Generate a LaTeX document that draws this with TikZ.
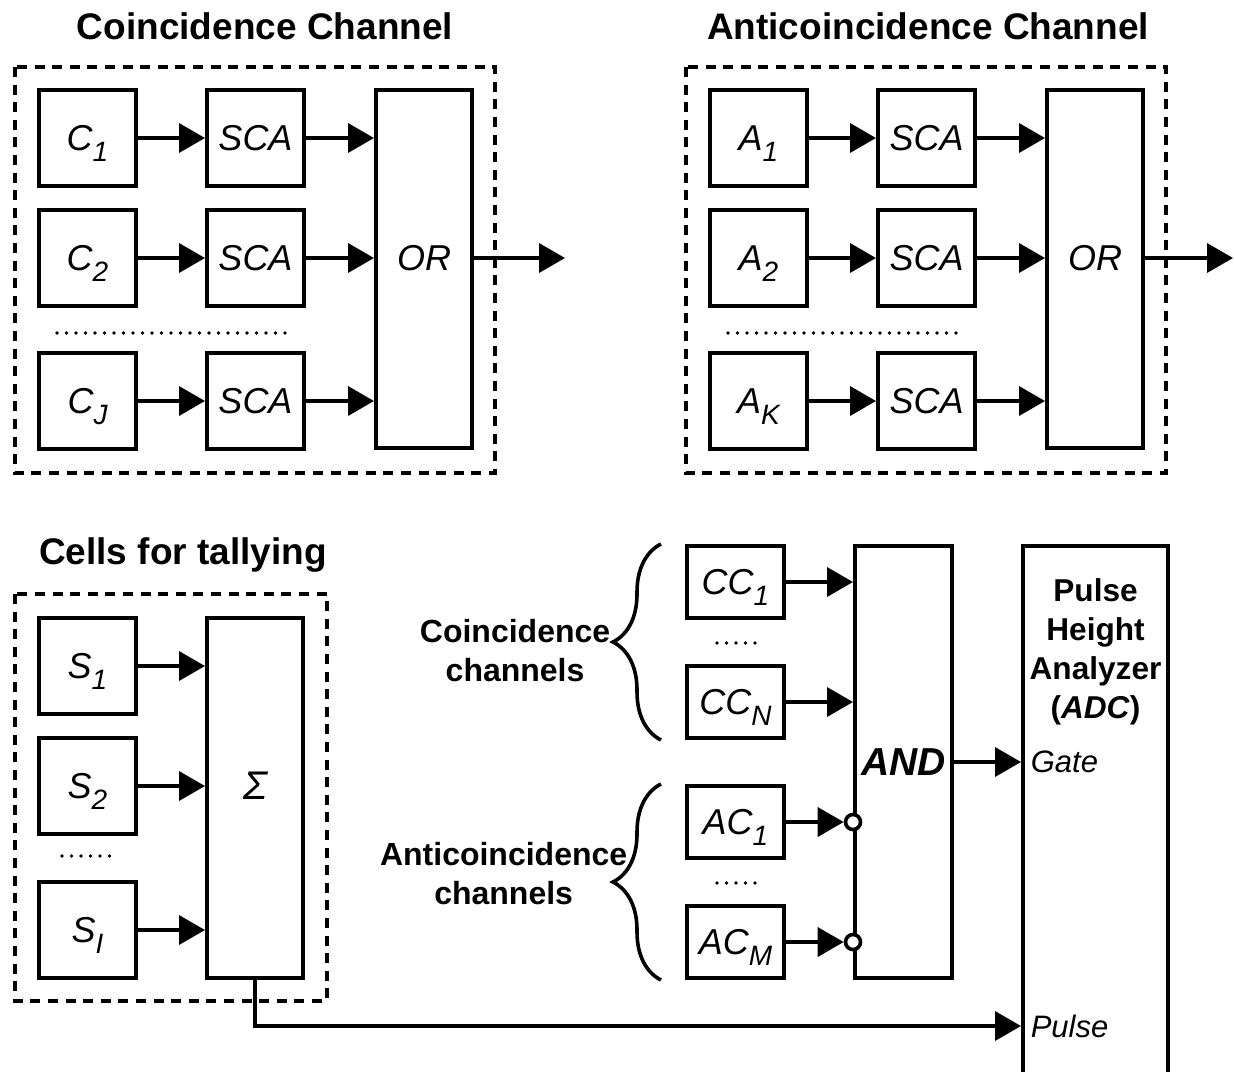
\documentclass[tikz,border=0pt]{standalone}
\usepackage{fontspec}
\setmainfont{Liberation Sans}
\usetikzlibrary{arrows.meta, positioning, decorations.pathreplacing}

\newcommand{\lsub}[1]{\raisebox{-5.5pt}[0pt][0pt]{\fontsize{14}{14}\selectfont #1}}

\begin{document}
\begin{tikzpicture}[x=0.5pt, y=-0.5pt, line width=1.8pt,
  >={Triangle[length=13pt, width=14.5pt]},
  lbl/.style={font=\fontsize{18}{21}\selectfont\itshape},
  blk/.style={draw, lbl, line width=2pt, inner sep=0pt, minimum width=48.5pt, minimum height=48pt},
  tallblk/.style={blk, minimum width=48pt},
  chblk/.style={blk, minimum height=36pt},
  frame/.style={line width=1.9pt, dash pattern=on 5pt off 3.8pt},
  heading/.style={font=\fontsize{18.5}{22}\selectfont\bfseries},
  note/.style={font=\fontsize{16}{19.5}\selectfont\bfseries, align=center, inner sep=0pt},
  port/.style={font=\fontsize{15.5}{18}\selectfont\itshape, anchor=west, inner sep=0pt, xshift=4pt},
  bubble/.style={circle, draw, fill=white, line width=1.8pt, minimum size=7.5pt, inner sep=0pt},
  curly/.style={decorate, decoration={brace, amplitude=24pt}},
  dotrow/.style={line width=1.8pt, line cap=round, dash pattern=on 0pt off 4.75pt}]
  \useasboundingbox (0,0) rectangle (1234,1071);

  % Coincidence channel (top left)
  \node[heading] (ctitle) at (265,26) {Coincidence Channel};
  \draw[frame] (15,67) rectangle (495,473);
  \node[blk] (c1) at (87.5,138) {C\lsub{1}};
  \node[blk] (c2) at (87.5,258) {C\lsub{2}};
  \node[blk] (cj) at (87.5,401) {C\lsub{J}};
  \node[blk] (csca1) at (255.5,138) {SCA};
  \node[blk] (csca2) at (255.5,258) {SCA};
  \node[blk] (csca3) at (255.5,401) {SCA};
  \node[tallblk, minimum height=179pt, label={[lbl, yshift=5.5pt]center:OR}] (cor) at (424,269) {};
  \draw[dotrow] (57,333) -- (286,333);

  \draw[->] (c1) -- (csca1);
  \draw[->] (c2) -- (csca2);
  \draw[->] (cj) -- (csca3);
  \draw[->] (csca1) -- (csca1 -| cor.west);
  \draw[->] (csca2) -- (csca2 -| cor.west);
  \draw[->] (csca3) -- (csca3 -| cor.west);
  \coordinate (cout) at (565,258);
  \draw[->] (cor.east |- c2) -- (cout);

  % Anticoincidence channel (top right)
  \node[heading] (atitle) at (928,26) {Anticoincidence Channel};
  \draw[frame] (686,67) rectangle (1166,473);
  \node[blk] (a1) at (758.5,138) {A\lsub{1}};
  \node[blk] (a2) at (758.5,258) {A\lsub{2}};
  \node[blk] (ak) at (758.5,401) {A\lsub{K}};
  \node[blk] (asca1) at (926.5,138) {SCA};
  \node[blk] (asca2) at (926.5,258) {SCA};
  \node[blk] (asca3) at (926.5,401) {SCA};
  \node[tallblk, minimum height=179pt, label={[lbl, yshift=5.5pt]center:OR}] (aor) at (1095,269) {};
  \draw[dotrow] (728,333) -- (957,333);

  \draw[->] (a1) -- (asca1);
  \draw[->] (a2) -- (asca2);
  \draw[->] (ak) -- (asca3);
  \draw[->] (asca1) -- (asca1 -| aor.west);
  \draw[->] (asca2) -- (asca2 -| aor.west);
  \draw[->] (asca3) -- (asca3 -| aor.west);
  \coordinate (aout) at (1233,258);
  \draw[->] (aor.east |- a2) -- (aout);

  % Cells for tallying (bottom left)
  \node[heading] (stitle) at (183,555) {Cells for tallying};
  \draw[frame] (15,594) rectangle (327,1001);
  \node[blk] (s1) at (87.5,666) {S\lsub{1}};
  \node[blk] (s2) at (87.5,786) {S\lsub{2}};
  \node[blk] (si) at (87.5,930) {S\lsub{I}};
  \node[tallblk, minimum height=180pt,
    label={[font=\fontsize{20}{22}\selectfont\itshape, yshift=6pt]center:Σ}] (sum) at (255,798) {};
  \draw[dotrow] (62,856) -- (113,856);

  \draw[->] (s1) -- (s1 -| sum.west);
  \draw[->] (s2) -- (s2 -| sum.west);
  \draw[->] (si) -- (si -| sum.west);

  % Channel gate (bottom middle)
  \node[chblk] (cc1) at (735.5,582) {CC\lsub{1}};
  \node[chblk] (ccn) at (735.5,702) {CC\lsub{N}};
  \node[chblk] (ac1) at (735.5,822) {AC\lsub{1}};
  \node[chblk] (acm) at (735.5,942) {AC\lsub{M}};
  \draw[dotrow] (717,643) -- (757,643);
  \draw[dotrow] (717,883) -- (757,883);
  \node[tallblk, minimum width=48.5pt, minimum height=216pt,
    font=\fontsize{19.5}{22}\selectfont\bfseries\itshape] (andgate) at (903.5,762) {AND};
  \node[bubble] (nb1) at (andgate.west |- ac1) {};
  \node[bubble] (nbm) at (andgate.west |- acm) {};

  \draw[->] (cc1) -- (cc1 -| andgate.west);
  \draw[->] (ccn) -- (ccn -| andgate.west);
  \draw[->] (ac1) -- (nb1);
  \draw[->] (acm) -- (nbm);

  \draw[curly] ([xshift=-12pt]ccn.south west) -- ([xshift=-12pt]cc1.north west)
    node[note, midway, left=24.5pt, yshift=-4.5pt] (cclbl) {Coincidence\\channels};
  \draw[curly] ([xshift=-12pt]acm.south west) -- ([xshift=-12pt]ac1.north west)
    node[note, midway, left=16pt, yshift=4pt] (aclbl) {Anticoincidence\\channels};

  % Pulse height analyzer (bottom right)
  \node[blk, minimum width=72.5pt, minimum height=277pt,
    label={[note, font=\fontsize{15.8}{19.5}\selectfont\bfseries, anchor=north, yshift=-16.5pt]north:{Pulse\\Height\\Analyzer\\(\textit{ADC})}}] (adc) at (1095.5,823) {};
  \draw[->] (andgate) -- (andgate -| adc.west);
  \node[port] (gate) at (andgate -| adc.west) {Gate};

  \coordinate (pulsey) at (0,1026);
  \draw[->] (sum.south) |- (adc.west |- pulsey);
  \node[port] (pulse) at (adc.west |- pulsey) {Pulse};

\end{tikzpicture}
\end{document}
